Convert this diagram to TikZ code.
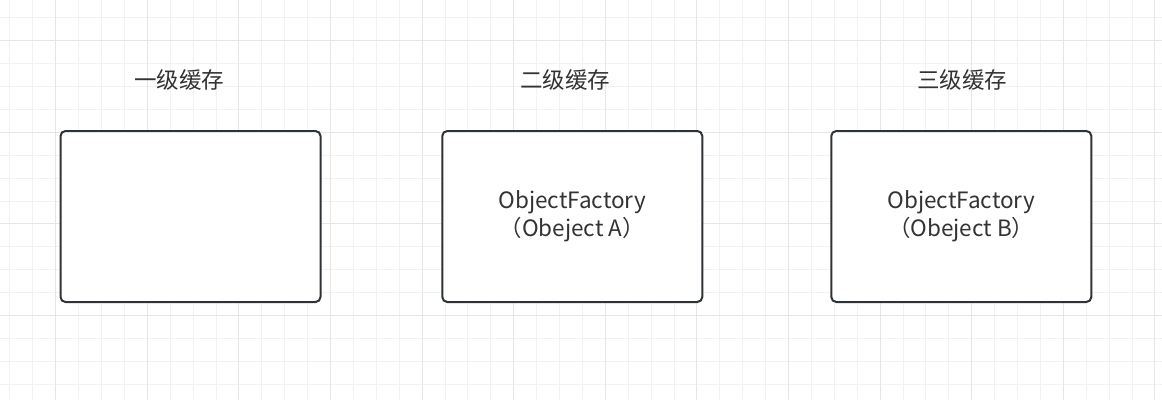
\documentclass[tikz,border=0pt]{standalone}
\usepackage{fontspec}
\setmainfont{Noto Sans CJK SC}
\definecolor{gridminor}{HTML}{F2F2F2}
\definecolor{gridmajor}{HTML}{E6E6E6}
\definecolor{boxline}{HTML}{2E3338}
\definecolor{txt}{HTML}{333333}
\begin{document}
\begin{tikzpicture}[x=1pt,y=-1pt,
  cachebox/.style={draw=boxline,line width=2pt,rounded corners=5pt,fill=white,
    minimum width=260pt,minimum height=171pt,inner sep=0pt,text=txt,
    align=center,font=\fontsize{22.5}{27.5}\selectfont},
  cachelabel/.style={text=txt,font=\fontsize{22.5}{26}\selectfont,inner sep=0pt}]
\useasboundingbox (0,0) rectangle (1162,400);
\fill[white] (0,0) rectangle (1162,400);
\foreach \k in {0,...,50} {
  \pgfmathsetmacro{\xx}{9.9+22.9*\k}
  \draw[gridminor,line width=1pt] (\xx,0) -- (\xx,400);
}
\foreach \k in {0,...,17} {
  \pgfmathsetmacro{\yy}{17.8+22.9*\k}
  \draw[gridminor,line width=1pt] (0,\yy) -- (1162,\yy);
}
\foreach \k in {0,...,12} {
  \pgfmathsetmacro{\xx}{55.7+91.6*\k}
  \draw[gridmajor,line width=1pt] (\xx,0) -- (\xx,400);
}
\foreach \k in {0,...,3} {
  \pgfmathsetmacro{\yy}{40.7+91.6*\k}
  \draw[gridmajor,line width=1pt] (0,\yy) -- (1162,\yy);
}
\node[cachelabel] (l1) at (179,80) {一级缓存};
\node[cachelabel] (l2) at (565,80) {二级缓存};
\node[cachelabel] (l3) at (962,80) {三级缓存};
\node[cachebox] (b1) at (190.5,216.5) {};
\node[cachebox] (b2) at (572.3,216.5) {ObjectFactory\\（Obeject A）};
\node[cachebox] (b3) at (961.3,216.5) {ObjectFactory\\（Obeject B）};
\end{tikzpicture}
\end{document}
